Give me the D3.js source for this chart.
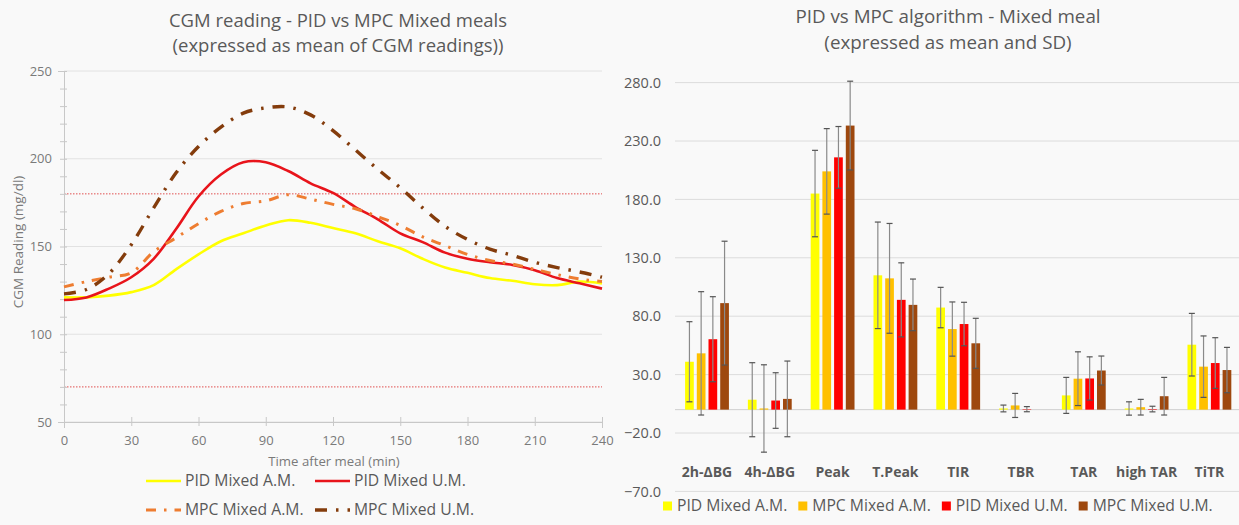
<!DOCTYPE html>
<html><head><meta charset="utf-8">
<script src="https://cdn.jsdelivr.net/npm/d3@7"></script>
<style>
html,body{margin:0;padding:0;background:#f9f9f9;}
svg{display:block;font-family:"Open Sans",sans-serif;}
</style></head><body>
<svg id="c" width="1239" height="525"></svg>
<script>
// ---------- LEFT CHART DATA ----------
const timeMin = [0,10,20,30,40,50,60,70,80,90,100,110,120,130,140,150,160,170,180,190,200,210,220,230,240];
const pidAM = [121,121,122,124,128,137,145.5,153,157.5,162,165,163.5,160.5,157.5,153,149,143,138,135,132,130.5,128.5,128,130,129];
const pidUM = [119.5,121,126,132.5,143,160,178.5,191,198,198,193,186,180.5,172.5,165.5,157.5,152.5,146.5,143,141,139.5,136.5,132,129,126];
const mpcAM = [127,130,132.5,135,147,155,163,170,174.5,176,179.5,177,174,171.5,167,162,155.5,150.5,145.5,142,140,137,134,131.5,130];
const mpcUM = [123,125.5,134.5,151,172,192,207,218,226,229,229.5,225,216,205,194,183.5,172,161.5,154,148.5,145,141,138,135.5,132.5];
const lineNames = ["PID Mixed A.M.","PID Mixed U.M.","MPC Mixed A.M.","MPC Mixed U.M."];
const xTicksL = [0,30,60,90,120,150,180,210,240];
const yTicksL = [50,100,150,200,250];
const targetRange = [70,180];

// ---------- RIGHT CHART DATA ----------
const categories = ["2h-ΔBG","4h-ΔBG","Peak","T.Peak","TIR","TBR","TAR","high TAR","TiTR"];
const barNames = ["PID Mixed A.M.","MPC Mixed A.M.","PID Mixed U.M.","MPC Mixed U.M."];
const barPidAM = [41,8.5,185,115,87.4,1,12.2,1,55.6];
const sdPidAM  = [34.3,31.7,37,45.6,17.3,2.9,15.4,5.7,26.8];
const barMpcAM = [48.2,1,204,112.4,69,3.6,26.5,2.1,36.8];
const sdMpcAM  = [52.8,37.4,36.6,47,23.2,10.3,23,6.7,26.3];
const barPidUM = [60.3,7.8,216,94,73.3,0.4,26.7,0.5,39.9];
const sdPidUM  = [36.4,23.8,26.4,31.7,18.6,2.2,18.5,2.4,21.7];
const barMpcUM = [91.2,9.2,243.2,89.7,56.8,0,33.5,11.5,33.9];
const sdMpcUM  = [53,32.4,38,22.1,21.4,0,12.4,16.1,19.4];
const yTicksR = [-70,-20,30,80,130,180,230,280];

// ---------- DRAW ----------
const svg = d3.select("#c");
const txt = "#595959";

// ===== Left =====
const lineSeries = [
  {name:lineNames[0], vals:pidAM, color:"#FFFF00", w:2.6, dash:null},
  {name:lineNames[1], vals:pidUM, color:"#E8141B", w:2.6, dash:null},
  {name:lineNames[2], vals:mpcAM, color:"#EE7D31", w:3, dash:"10,8,2.5,8"},
  {name:lineNames[3], vals:mpcUM, color:"#843C0C", w:3.4, dash:"12,9,2.5,9"}
];
const xL = d3.scaleLinear().domain([0,240]).range([64,602]);
const yL = d3.scaleLinear().domain([50,250]).range([422,71]);
const gL = svg.append("g");

gL.append("text").attr("x",338).attr("y",21).attr("dy","0.35em").attr("text-anchor","middle")
  .attr("font-size",18.5).attr("fill",txt).text("CGM reading - PID vs MPC Mixed meals");
gL.append("text").attr("x",338).attr("y",46).attr("dy","0.35em").attr("text-anchor","middle")
  .attr("font-size",18.5).attr("fill",txt).text("(expressed as mean of CGM readings))");

gL.selectAll("line.grid").data(yTicksL).join("line").attr("class","grid")
  .attr("x1",xL(0)).attr("x2",xL(240)).attr("y1",d=>yL(d)).attr("y2",d=>yL(d))
  .attr("stroke","#e2e2e2").attr("stroke-width",1);

gL.selectAll("line.target").data(targetRange).join("line").attr("class","target")
  .attr("x1",xL(0)).attr("x2",xL(240)).attr("y1",d=>yL(d)).attr("y2",d=>yL(d))
  .attr("stroke","#E05050").attr("stroke-width",1).attr("stroke-dasharray","1.5,1.5");

// y axis
const yAx = gL.append("g").attr("transform",`translate(${xL(0)},0)`)
  .call(d3.axisLeft(yL).tickValues(d3.range(50,251,10)).tickFormat(d=>yTicksL.includes(d)?d:""));
yAx.select(".domain").attr("stroke","#c8c8c8");
yAx.selectAll(".tick line").attr("x1",-4).attr("x2",3).attr("stroke","#c8c8c8");
yAx.selectAll(".tick text").attr("x",-12).attr("font-size",13).attr("fill","#7a7a7a").attr("font-family","Open Sans");

// x axis
const xAx = gL.append("g").attr("transform",`translate(0,${yL(50)})`)
  .call(d3.axisBottom(xL).tickValues(xTicksL));
xAx.select(".domain").attr("stroke","#c8c8c8");
xAx.selectAll(".tick line").attr("y1",-5).attr("y2",4).attr("stroke","#c8c8c8");
xAx.selectAll(".tick text").attr("y",18).attr("dy","0.35em").attr("font-size",13).attr("fill","#7a7a7a").attr("font-family","Open Sans");

gL.append("text").attr("x",334).attr("y",461).attr("dy","0.35em").attr("text-anchor","middle")
  .attr("font-size",13.2).attr("fill","#7a7a7a").text("Time after meal (min)");
gL.append("text").attr("transform","translate(18,242) rotate(-90)").attr("dy","0.35em").attr("text-anchor","middle")
  .attr("font-size",13.5).attr("fill","#7a7a7a").text("CGM Reading (mg/dl)");

const lineGen = d3.line().x((d,i)=>xL(timeMin[i])).y(d=>yL(d)).curve(d3.curveCatmullRom.alpha(0.5));
gL.selectAll("path.series").data(lineSeries).join("path").attr("class","series")
  .attr("d",d=>lineGen(d.vals)).attr("fill","none").attr("stroke",d=>d.color)
  .attr("stroke-width",d=>d.w).attr("stroke-dasharray",d=>d.dash);

// legend left
const legPos = [[146,481],[315,481],[146,510],[315,510]];
lineSeries.forEach((s,i)=>{
  const [lx,ly] = legPos[i];
  gL.append("line").attr("x1",lx).attr("x2",lx+35).attr("y1",ly).attr("y2",ly)
    .attr("stroke",s.color).attr("stroke-width",s.w).attr("stroke-dasharray",s.dash);
  gL.append("text").attr("x",lx+39).attr("y",ly).attr("dy","0.35em")
    .attr("font-size",15.7).attr("fill",txt).text(s.name);
});

// ===== Right =====
const barSeries = [
  {name:barNames[0], vals:barPidAM, sd:sdPidAM, color:"#FFFF00"},
  {name:barNames[1], vals:barMpcAM, sd:sdMpcAM, color:"#FFC000"},
  {name:barNames[2], vals:barPidUM, sd:sdPidUM, color:"#FF0000"},
  {name:barNames[3], vals:barMpcUM, sd:sdMpcUM, color:"#9E480E"}
];
const gR = svg.append("g");
gR.append("text").attr("x",948).attr("y",16).attr("dy","0.35em").attr("text-anchor","middle")
  .attr("font-size",18.8).attr("fill",txt).text("PID vs MPC algorithm - Mixed meal");
gR.append("text").attr("x",948).attr("y",42).attr("dy","0.35em").attr("text-anchor","middle")
  .attr("font-size",18.8).attr("fill",txt).text("(expressed as mean and SD)");

const xR = d3.scaleBand().domain(categories).range([675.6,1240.8]);
const bw = xR.bandwidth();
const xSub = d3.scaleBand().domain(barNames).range([bw*0.151,bw*0.849]).paddingInner(0.256);
const yR = d3.scaleLinear().domain([-70,280]).range([491.4,82.6]);

gR.selectAll("line.grid").data(yTicksR).join("line").attr("class","grid")
  .attr("x1",675).attr("x2",1239).attr("y1",d=>yR(d)).attr("y2",d=>yR(d))
  .attr("stroke","#dcdcdc").attr("stroke-width",1);
gR.append("line").attr("x1",675).attr("x2",1239).attr("y1",yR(0)).attr("y2",yR(0))
  .attr("stroke","#cfcfcf").attr("stroke-width",1);

const yAxR = gR.append("g").attr("transform","translate(675,0)")
  .call(d3.axisLeft(yR).tickValues(yTicksR).tickFormat(d3.format(".1f")).tickSize(0));
yAxR.select(".domain").remove();
yAxR.selectAll(".tick text").attr("x",-14).attr("font-size",14.5).attr("fill",txt).attr("font-family","Open Sans");

gR.selectAll("text.cat").data(categories).join("text").attr("class","cat")
  .attr("x",d=>xR(d)+bw/2).attr("y",472).attr("dy","0.35em").attr("text-anchor","middle")
  .attr("font-size",14).attr("font-weight","bold").attr("fill",txt).text(d=>d);

barSeries.forEach(s=>{
  const g = gR.append("g");
  g.selectAll("rect").data(categories).join("rect")
    .attr("x",(c)=>xR(c)+xSub(s.name)).attr("width",xSub.bandwidth())
    .attr("y",(c,i)=>yR(Math.max(0,s.vals[i])))
    .attr("height",(c,i)=>Math.abs(yR(s.vals[i])-yR(0)))
    .attr("fill",s.color);
});
barSeries.forEach(s=>{
  const g = gR.append("g");
  categories.forEach((c,i)=>{
    if(s.sd[i]<=0) return;
    const cx = xR(c)+xSub(s.name)+xSub.bandwidth()/2;
    const yt = yR(s.vals[i]+s.sd[i]), yb = yR(s.vals[i]-s.sd[i]);
    g.append("line").attr("x1",cx).attr("x2",cx).attr("y1",yt).attr("y2",yb).attr("stroke","#8a8a8a").attr("stroke-width",1.2);
    [yt,yb].forEach(yy=>g.append("line").attr("x1",cx-3).attr("x2",cx+3).attr("y1",yy).attr("y2",yy).attr("stroke","#555").attr("stroke-width",1.2));
  });
});

// legend right
let cx = 663;
barSeries.forEach(s=>{
  gR.append("rect").attr("x",cx).attr("y",501.5).attr("width",9).attr("height",9).attr("fill",s.color);
  const t = gR.append("text").attr("x",cx+14).attr("y",506).attr("dy","0.35em")
    .attr("font-size",15.7).attr("fill",txt).text(s.name);
  cx += 14 + t.node().getComputedTextLength() + 11;
});
</script>
</body></html>
